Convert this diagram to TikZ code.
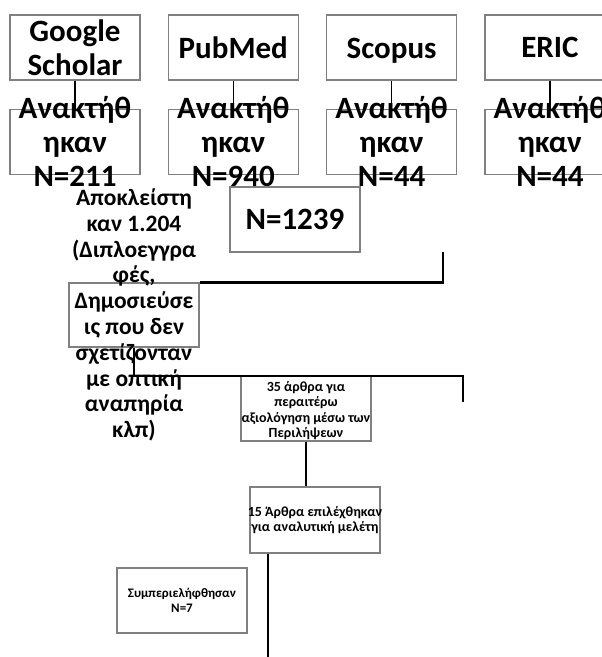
\documentclass[tikz,border=0pt]{standalone}
\usepackage{fontspec}
\setmainfont{Carlito}
\usepackage{tikz}
\usetikzlibrary{positioning}
\definecolor{boxgray}{RGB}{128,128,128}

\begin{document}
\begin{tikzpicture}[x=1pt,y=-1pt,
  box/.style={draw=boxgray,line width=1.3pt,minimum width=130pt,minimum height=65pt,inner sep=0pt},
  big/.style={font=\fontsize{31}{34}\selectfont\bfseries,align=center,inner sep=0pt},
  mid/.style={font=\fontsize{23.5}{25.8}\selectfont\bfseries,align=center,inner sep=0pt},
  small/.style={font=\fontsize{14}{15.5}\selectfont\bfseries,align=center,inner sep=0pt},
  link/.style={line width=1.2pt},
  flow/.style={line width=2.6pt}]
\useasboundingbox (0,0) rectangle (602,657);

% databases
\node[box] (gs)              at (75,47.5) {};
\node[box] (pm) [right=27pt of gs] {};
\node[box] (sc) [right=27pt of pm] {};
\node[box] (er) [right=27pt of sc] {};
\node[big] (gs-t) at (gs) {Google\\Scholar};
\node[big] (pm-t) at (pm) {PubMed};
\node[big,yshift=-3pt] (sc-t) at (sc) {Scopus};
\node[big] (er-t) at (er) {ERIC};

% retrieved
\node[box] (gs-n) [below=28pt of gs] {};
\node[box] (pm-n) [below=28pt of pm] {};
\node[box] (sc-n) [below=28pt of sc] {};
\node[box] (er-n) [below=28pt of er] {};
\foreach \a in {gs,pm,sc,er}
  \draw[link] (\a.south) -- (\a-n.north);
\node[big] (gs-nt) at (gs-n) {Ανακτήθ\\ηκαν\\N=211};
\node[big] (pm-nt) at (pm-n) {Ανακτήθ\\ηκαν\\N=940};
\node[big] (sc-nt) at (sc-n) {Ανακτήθ\\ηκαν\\N=44};
\node[big] (er-nt) at (er-n) {Ανακτήθ\\ηκαν\\N=44};

% total and excluded
\node[box] (tot)  at (295,219.5) {};
\node[big] (tot-t) at (tot) {N=1239};
\node[box,minimum height=64pt] (excl) at (134,315) {};
\node[mid] (excl-t) at (excl) {Αποκλείστη\\καν 1.204\\(Διπλοεγγρα\\φές,\\Δημοσιεύσε\\ις που δεν\\σχετίζονταν\\με οπτική\\αναπηρία\\κλπ)};

% screening
\node[box] (abs) at (306,408.5) {};
\node[small,yshift=-2pt] (abs-t) at (abs) {35 άρθρα για\\περαιτέρω\\αξιολόγηση μέσω των\\Περιλήψεων};
\node[box,minimum height=66pt] (sel) at (315,520) {};
\node[small] (sel-t) at (sel) {15 Άρθρα επιλέχθηκαν\\για αναλυτική μελέτη};
\node[box] (inc) at (182,600.5) {};
\node[small,font=\fontsize{13}{15}\selectfont\bfseries] (inc-t) at (inc) {Συμπεριελήφθησαν\\N=7};

\coordinate (drop) at (443,252);
\coordinate (turn) at (463,376);
\coordinate (stub) at (463,402);
\coordinate (tail) at (268,657);

\draw[flow] (drop) |- (excl.north east);
\draw[flow] (excl.south) |- (turn) -- (stub);
\draw[flow] (abs.south) -- (abs.south |- sel.north);
\draw[flow] (sel.south -| tail) -- (tail);

\end{tikzpicture}
\end{document}
